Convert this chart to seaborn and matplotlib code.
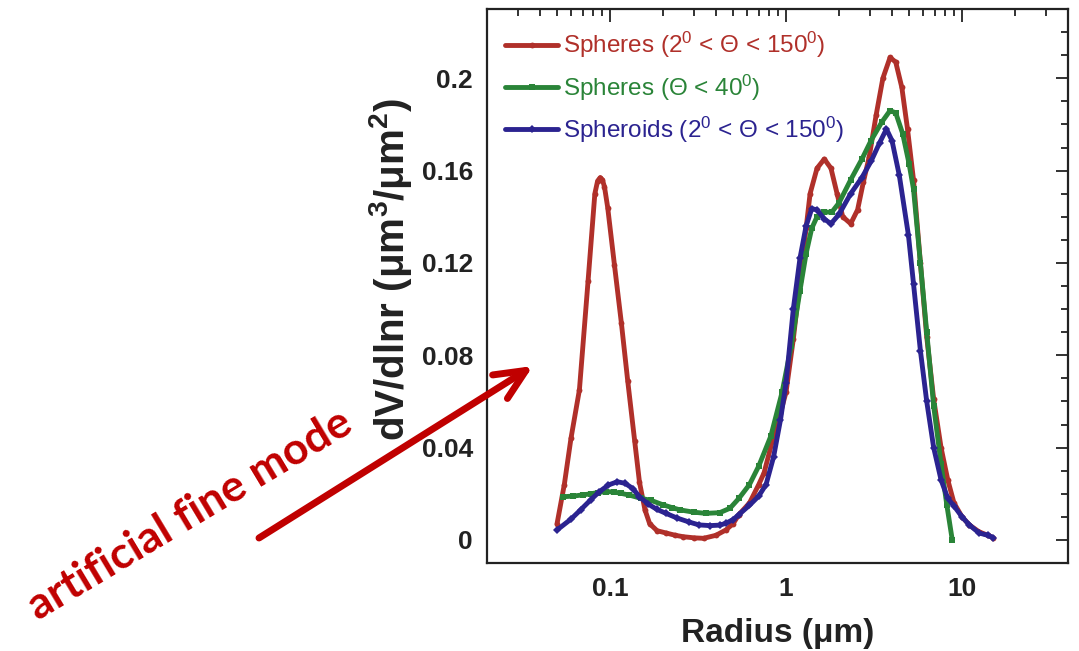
import numpy as np
import pandas as pd
import matplotlib
matplotlib.use("Agg")
import matplotlib.pyplot as plt
from matplotlib.ticker import MultipleLocator, LogLocator, NullFormatter
import seaborn as sns

# ---------------- data ----------------
red_r = [0.050, 0.055, 0.060, 0.067, 0.075, 0.082, 0.085, 0.088, 0.0905, 0.093,
         0.097, 0.106, 0.116, 0.126, 0.138, 0.147, 0.158, 0.168, 0.185, 0.208,
         0.235, 0.26, 0.30, 0.34, 0.40, 0.455, 0.50, 0.54, 0.62, 0.70,
         0.75, 0.85, 0.93, 1.00, 1.10, 1.20, 1.30, 1.37, 1.50, 1.65,
         1.80, 1.95, 2.10, 2.33, 2.55, 2.75, 2.97, 3.25, 3.55, 3.90,
         4.20, 4.55, 4.90, 5.30, 5.80, 6.30, 6.90, 7.60, 8.30, 9.00,
         10.0, 11.0, 12.5, 14.0, 15.0]
red_v = [0.007, 0.024, 0.044, 0.065, 0.112, 0.150, 0.1555, 0.157, 0.156, 0.153,
         0.144, 0.119, 0.094, 0.069, 0.043, 0.025, 0.013, 0.007, 0.004, 0.003,
         0.002, 0.0014, 0.0009, 0.0007, 0.002, 0.0043, 0.007, 0.011, 0.016, 0.024,
         0.029, 0.045, 0.055, 0.064, 0.087, 0.112, 0.135, 0.150, 0.161, 0.165,
         0.161, 0.150, 0.140, 0.137, 0.143, 0.155, 0.166, 0.184, 0.200, 0.209,
         0.207, 0.196, 0.178, 0.156, 0.120, 0.088, 0.061, 0.040, 0.026, 0.016,
         0.010, 0.0065, 0.0035, 0.002, 0.001]

green_r = [0.054, 0.062, 0.070, 0.078, 0.085, 0.095, 0.105, 0.115, 0.129, 0.150,
           0.170, 0.200, 0.225, 0.250, 0.300, 0.350, 0.420, 0.480, 0.540, 0.620,
           0.700, 0.820, 0.950, 1.07, 1.20, 1.30, 1.40, 1.50, 1.65, 1.82,
           2.00, 2.33, 2.70, 3.04, 3.50, 3.90, 4.20, 4.60, 5.00, 5.30,
           5.80, 6.30, 6.90, 7.60, 8.20, 8.80]
green_v = [0.0187, 0.019, 0.0195, 0.020, 0.0205, 0.0209, 0.0208, 0.0202, 0.0194, 0.018,
           0.0172, 0.0152, 0.014, 0.013, 0.012, 0.0115, 0.0118, 0.0137, 0.018, 0.024,
           0.032, 0.045, 0.064, 0.084, 0.108, 0.124, 0.135, 0.140, 0.142, 0.142,
           0.146, 0.156, 0.165, 0.173, 0.181, 0.186, 0.185, 0.176, 0.163, 0.152,
           0.120, 0.090, 0.058, 0.033, 0.015, 0.0]

blue_r = [0.050, 0.060, 0.068, 0.078, 0.087, 0.098, 0.110, 0.122, 0.135, 0.147,
          0.165, 0.185, 0.208, 0.240, 0.280, 0.320, 0.370, 0.420, 0.455, 0.500,
          0.540, 0.620, 0.700, 0.770, 0.850, 0.930, 1.00, 1.10, 1.20, 1.30,
          1.40, 1.50, 1.65, 1.80, 2.00, 2.33, 2.70, 3.04, 3.40, 3.72,
          4.00, 4.40, 4.96, 5.30, 5.80, 6.30, 6.90, 7.60, 8.30, 9.00,
          10.0, 11.0, 12.5, 14.0, 15.0]
blue_v = [0.0043, 0.009, 0.013, 0.0175, 0.0209, 0.0238, 0.0252, 0.0245, 0.0222, 0.0187,
          0.0155, 0.0132, 0.0115, 0.0095, 0.0078, 0.0065, 0.0062, 0.0064, 0.0072, 0.0088,
          0.011, 0.015, 0.019, 0.024, 0.036, 0.052, 0.068, 0.100, 0.122, 0.136,
          0.1435, 0.143, 0.139, 0.137, 0.141, 0.150, 0.157, 0.164, 0.172, 0.178,
          0.173, 0.158, 0.132, 0.111, 0.082, 0.060, 0.040, 0.026, 0.018, 0.0147,
          0.010, 0.0065, 0.003, 0.002, 0.001]

series_labels = ["Spheres (2$^0$ < Θ < 150$^0$)",
                 "Spheres (Θ < 40$^0$)",
                 "Spheroids (2$^0$ < Θ < 150$^0$)"]
series_colors = ["#B0302A", "#2A8438", "#2B2390"]
series_markers = ["o", "s", "D"]
series_msize = [4.2, 5.0, 3.6]

y_ticks = [0, 0.04, 0.08, 0.12, 0.16, 0.2]
y_ticklabels = ["0", "0.04", "0.08", "0.12", "0.16", "0.2"]
x_ticks = [0.1, 1, 10]
x_ticklabels = ["0.1", "1", "10"]

# ---------------- style ----------------
sns.set_theme(style="white")
plt.rcParams['font.family'] = ['Liberation Sans', 'DejaVu Sans']
plt.rcParams['mathtext.default'] = 'regular'

W, H = 1079, 651
fig = plt.figure(figsize=(W / 100, H / 100), dpi=100)
fig.patch.set_facecolor("white")
ax = fig.add_axes([487 / W, 1 - 563 / H, 581 / W, 554 / H])
ax.set_facecolor("white")

all_r = [red_r, green_r, blue_r]
all_v = [red_v, green_v, blue_v]
for r, v, lab, col, mk, ms in zip(all_r, all_v, series_labels, series_colors,
                                   series_markers, series_msize):
    df = pd.DataFrame({"radius": r, "dvdlnr": v})
    sns.lineplot(data=df, x="radius", y="dvdlnr", ax=ax, color=col, marker=mk,
                 markersize=ms, markeredgewidth=0, linewidth=3.5, label=lab,
                 estimator=None, sort=False)

ax.set_xscale("log")
ax.set_xlim(0.02, 40)
ax.set_ylim(-0.01, 0.23)

ax.set_xticks(x_ticks)
ax.set_xticklabels(x_ticklabels, fontweight="bold")
ax.xaxis.set_minor_locator(LogLocator(base=10, subs=np.arange(2, 10)))
ax.xaxis.set_minor_formatter(NullFormatter())
ax.set_yticks(y_ticks)
ax.set_yticklabels(y_ticklabels, fontweight="bold")
ax.yaxis.set_minor_locator(MultipleLocator(0.01))

ax.tick_params(which="both", direction="in", top=True, right=True,
               color="#222222", width=1.3, labelsize=19, labelcolor="#222222")
ax.tick_params(which="major", length=9)
ax.tick_params(which="minor", length=5)
ax.tick_params(axis="y", pad=10)
ax.tick_params(axis="x", pad=10)
for s in ax.spines.values():
    s.set_linewidth(1.6)
    s.set_color("#222222")

ax.set_xlabel("Radius (μm)", fontsize=24, fontweight="bold", color="#222222")
ax.set_ylabel("dV/dlnr (μm$^3$/μm$^2$)", fontsize=29, fontweight="bold",
              color="#222222")
ax.xaxis.set_label_coords(0.5, -0.1)
ax.yaxis.set_label_coords(-0.125, 0.529)

leg = ax.legend(loc="upper left", bbox_to_anchor=(0.031, 0.962), frameon=False,
                fontsize=17.5, handlelength=2.2, handletextpad=0.2,
                labelspacing=0.5, borderaxespad=0, borderpad=0, numpoints=1,
                labelcolor="linecolor")

# annotation
fig.text(190 / W, 1 - 515 / H, "artificial fine mode", rotation=31,
         ha="center", va="center", rotation_mode="anchor",
         color="#C00000", fontsize=32, fontweight="bold",
         family=["Lato", "DejaVu Sans"])
ax.annotate("", xy=(533 / W, 1 - 366 / H), xytext=(259 / W, 1 - 538 / H),
            xycoords="figure fraction", textcoords="figure fraction",
            annotation_clip=False,
            arrowprops=dict(arrowstyle="->,head_length=1.1,head_width=0.5",
                            color="#C00000", lw=5, shrinkA=0, shrinkB=0,
                            mutation_scale=20))

fig.savefig("out.png", dpi=100, facecolor="white")
